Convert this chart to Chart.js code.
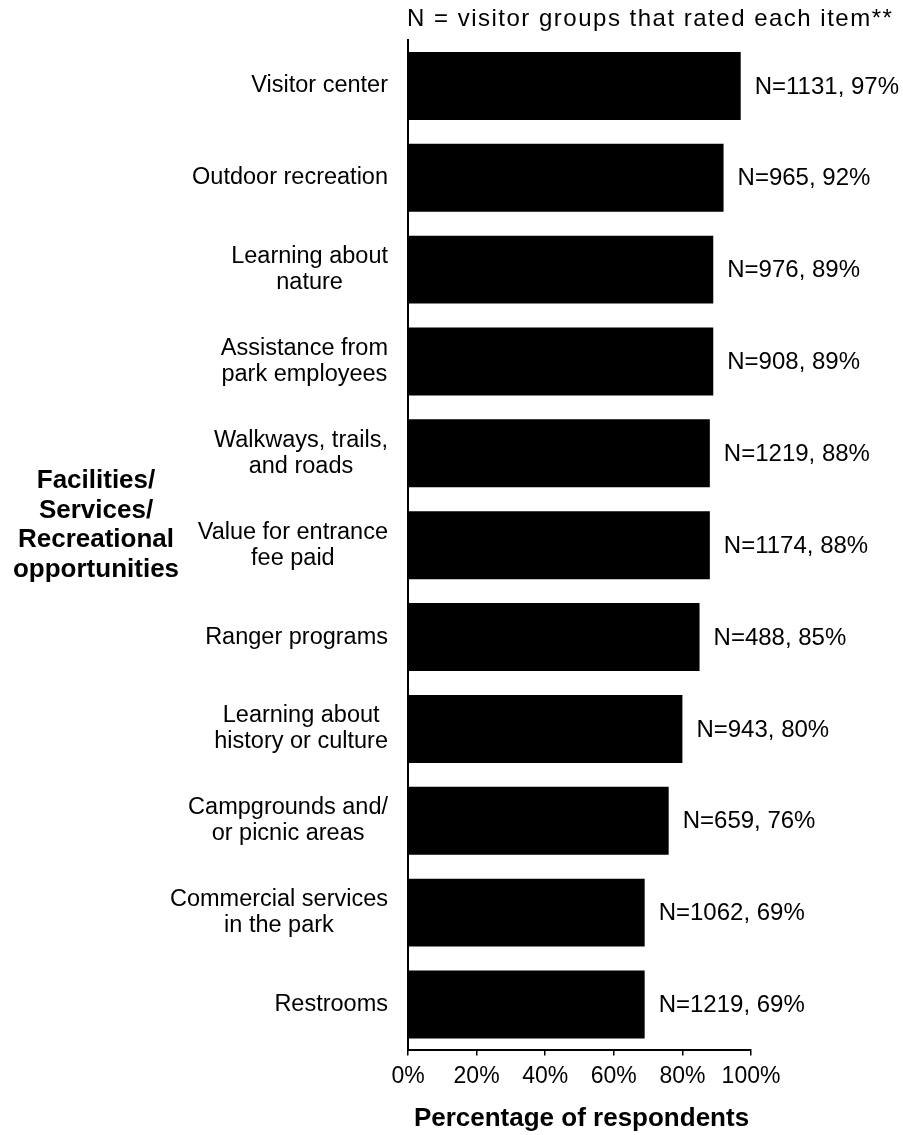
<!DOCTYPE html>
<html>
<head>
<meta charset="utf-8">
<script src="https://cdn.jsdelivr.net/npm/chart.js@4.4.1/dist/chart.umd.min.js"></script>
<style>
  html, body { margin: 0; padding: 0; background: #fff; }
  canvas { display: block; }
</style>
</head>
<body>
<canvas id="ratingChart" width="903" height="1135"></canvas>
<script>
// Data
const categories = [
  ['Visitor center'],
  ['Outdoor recreation'],
  ['Learning about', 'nature'],
  ['Assistance from', 'park employees'],
  ['Walkways, trails,', 'and roads'],
  ['Value for entrance', 'fee paid'],
  ['Ranger programs'],
  ['Learning about', 'history or culture'],
  ['Campgrounds and/', 'or picnic areas'],
  ['Commercial services', 'in the park'],
  ['Restrooms']
];
const percents = [97, 92, 89, 89, 88, 88, 85, 80, 76, 69, 69];
const counts = [1131, 965, 976, 908, 1219, 1174, 488, 943, 659, 1062, 1219];
const xTicks = [0, 20, 40, 60, 80, 100];

const noteText = 'N = visitor groups that rated each item**';
const sideTitle = ['Facilities/', 'Services/', 'Recreational', 'opportunities'];
const xTitle = 'Percentage of respondents';

const FONT = '"Liberation Sans", Arial, sans-serif';

// draws the category labels, value labels and the titles
const textPlugin = {
  id: 'textPlugin',
  afterDraw(chart) {
    const ctx = chart.ctx;
    const area = chart.chartArea;
    const xs = chart.scales.x;
    const ys = chart.scales.y;
    ctx.save();
    ctx.fillStyle = '#000';

    // category labels: block right-aligned, lines centered in block
    ctx.font = '23.5px ' + FONT;
    ctx.textBaseline = 'middle';
    ctx.textAlign = 'center';
    const lh = 26;
    categories.forEach((lines, i) => {
      const yc = ys.getPixelForValue(i);
      const w = Math.max(...lines.map(l => ctx.measureText(l).width));
      const cx = area.left - 20 - w / 2;
      const y0 = yc - (lines.length - 1) * lh / 2;
      lines.forEach((l, j) => ctx.fillText(l, cx, y0 + j * lh));
    });

    // value labels at bar end
    ctx.font = '24px ' + FONT;
    ctx.textAlign = 'left';
    percents.forEach((p, i) => {
      const txt = 'N=' + counts[i] + ', ' + p + '%';
      const w = ctx.measureText(txt).width;
      let x = xs.getPixelForValue(p) + 14;
      x = Math.min(x, chart.width - w - 4);
      ctx.fillText(txt, x, ys.getPixelForValue(i) + 1);
    });

    // note above plot
    ctx.font = '24px ' + FONT;
    ctx.letterSpacing = '1.5px';
    ctx.textBaseline = 'middle';
    ctx.fillText(noteText, area.left - 1, 19);
    ctx.letterSpacing = '0px';

    // x axis title
    ctx.font = 'bold 26px ' + FONT;
    ctx.textAlign = 'center';
    ctx.fillText(xTitle, (area.left + area.right) / 2 + 2, 1119);

    // side title
    const tl = 29.5;
    const midY = (area.top + area.bottom) / 2 - 20;
    sideTitle.forEach((l, j) => {
      ctx.fillText(l, 96, midY + (j - (sideTitle.length - 1) / 2) * tl);
    });
    ctx.restore();
  }
};

new Chart(document.getElementById('ratingChart').getContext('2d'), {
  type: 'bar',
  data: {
    labels: categories.map(c => c.join(' ')),
    datasets: [{
      data: percents,
      backgroundColor: '#000',
      borderWidth: 0,
      barPercentage: 0.74,
      categoryPercentage: 1
    }]
  },
  options: {
    indexAxis: 'y',
    responsive: false,
    animation: false,
    layout: { padding: { top: 40, right: 152, bottom: 38, left: 0 } },
    plugins: {
      legend: { display: false },
      tooltip: { enabled: false }
    },
    scales: {
      x: {
        min: 0,
        max: 100,
        afterBuildTicks(scale) {
          scale.ticks = xTicks.map(v => ({ value: v }));
        },
        ticks: {
          color: '#000',
          padding: 7,
          font: { family: FONT, size: 23 },
          callback: v => v + '%'
        },
        grid: {
          display: true,
          drawOnChartArea: false,
          drawTicks: true,
          tickLength: 5,
          color: '#000',
          lineWidth: 1.5
        },
        border: { display: true, color: '#000', width: 2 },
        title: { display: false }
      },
      y: {
        ticks: { display: false },
        grid: { display: false },
        border: { display: true, color: '#000', width: 2 },
        afterFit(scale) { scale.width = 408; }
      }
    }
  },
  plugins: [textPlugin]
});
</script>
</body>
</html>
